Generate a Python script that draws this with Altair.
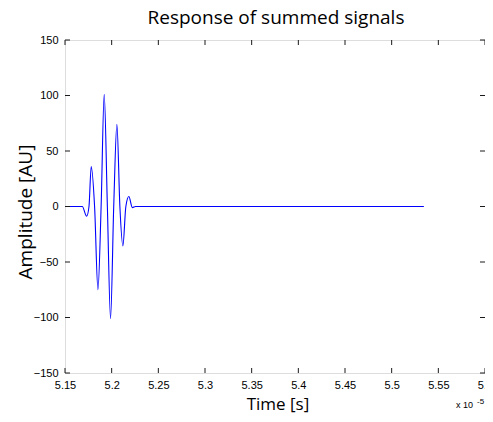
import altair as alt
import pandas as pd

# ---- data (time in units of 1e-5 s, amplitude in AU) ----
times = [5.150, 5.1685, 5.1732, 5.1757, 5.1781, 5.1817, 5.1853, 5.1887, 5.1920,
         5.1954, 5.1988, 5.2022, 5.2056, 5.2088, 5.2120, 5.2152, 5.2184, 5.2222,
         5.2256, 5.5345]
amps = [0, 0, -8.7, 0, 36, 0, -75, 0, 101, 0, -101, 0, 74, 0, -35.5, 0, 9, -1, 0, 0]

x_ticks = [5.15, 5.2, 5.25, 5.3, 5.35, 5.4, 5.45, 5.5, 5.55, 5.6]
y_ticks = [-150, -100, -50, 0, 50, 100, 150]

title_text = "Response of summed signals"
x_title = "Time [s]"
y_title = "Amplitude [AU]"
exp_base = "x 10"
exp_power = "-5"

W, H = 420, 333
TICK = 5
FRAME = "#1a1a1a"
LABEL_FONT = "Liberation Sans"
TITLE_FONT = "Open Sans"

xscale = alt.Scale(domain=[5.15, 5.6], nice=False, zero=False)
yscale = alt.Scale(domain=[-150, 150], nice=False, zero=False)
x_axis = alt.Axis(values=x_ticks, format=".3~f", title=None, domain=False,
                  ticks=False, grid=False, labelPadding=6, labelFontSize=11,
                  labelFont=LABEL_FONT, labelColor="#000000", labelFlush=False,
                  labelOverlap=False)
y_axis = alt.Axis(values=y_ticks, format="d", title=None, domain=False,
                  ticks=False, grid=False, labelPadding=7, labelFontSize=11,
                  labelFont=LABEL_FONT, labelColor="#000000", labelOverlap=False)

df = pd.DataFrame({"t": times, "a": amps})
line = alt.Chart(df).mark_line(color="#0000ff", strokeWidth=1.1,
                               interpolate="monotone").encode(
    x=alt.X("t:Q", scale=xscale, axis=x_axis),
    y=alt.Y("a:Q", scale=yscale, axis=y_axis),
)

xt = pd.DataFrame({"t": x_ticks})
yt = pd.DataFrame({"a": y_ticks})
rule_kw = dict(color=FRAME, strokeWidth=1)
bottom_ticks = alt.Chart(xt).mark_rule(**rule_kw).encode(
    x=alt.X("t:Q", scale=xscale, axis=x_axis), y=alt.value(H), y2=alt.value(H - TICK))
top_ticks = alt.Chart(xt).mark_rule(**rule_kw).encode(
    x=alt.X("t:Q", scale=xscale, axis=x_axis), y=alt.value(0), y2=alt.value(TICK))
left_ticks = alt.Chart(yt).mark_rule(**rule_kw).encode(
    y=alt.Y("a:Q", scale=yscale, axis=y_axis), x=alt.value(0), x2=alt.value(TICK))
right_ticks = alt.Chart(yt).mark_rule(**rule_kw).encode(
    y=alt.Y("a:Q", scale=yscale, axis=y_axis), x=alt.value(W), x2=alt.value(W - TICK))


def label(text, x, y, size, font, **kw):
    return alt.Chart(pd.DataFrame({"s": [text]})).mark_text(
        font=font, fontSize=size, color="#000000", **kw).encode(
        x=alt.value(x), y=alt.value(y), text="s:N")


title = label(title_text, W / 2 + 1, -16, 19, TITLE_FONT, align="center", baseline="alphabetic")
xlab = label(x_title, 213, 370, 17, TITLE_FONT, align="center", baseline="alphabetic")
ylab = label(y_title, -33, 172, 19, TITLE_FONT, align="center", baseline="alphabetic", angle=270)
e1 = label(exp_base, 391, 368, 9, LABEL_FONT, align="left", baseline="alphabetic")
e2 = label(exp_power, 412, 364, 8, LABEL_FONT, align="left", baseline="alphabetic")

chart = alt.layer(
    line, bottom_ticks, top_ticks, left_ticks, right_ticks, title, xlab, ylab, e1, e2
).properties(
    width=W, height=H,
    autosize=alt.AutoSizeParams(type="none"),
    padding={"left": 57, "top": 32, "right": 0, "bottom": 41},
).configure_view(stroke=FRAME, strokeWidth=1).configure(background="#ffffff")

chart.save("out.html", embed_options={"renderer": "svg", "actions": False})
